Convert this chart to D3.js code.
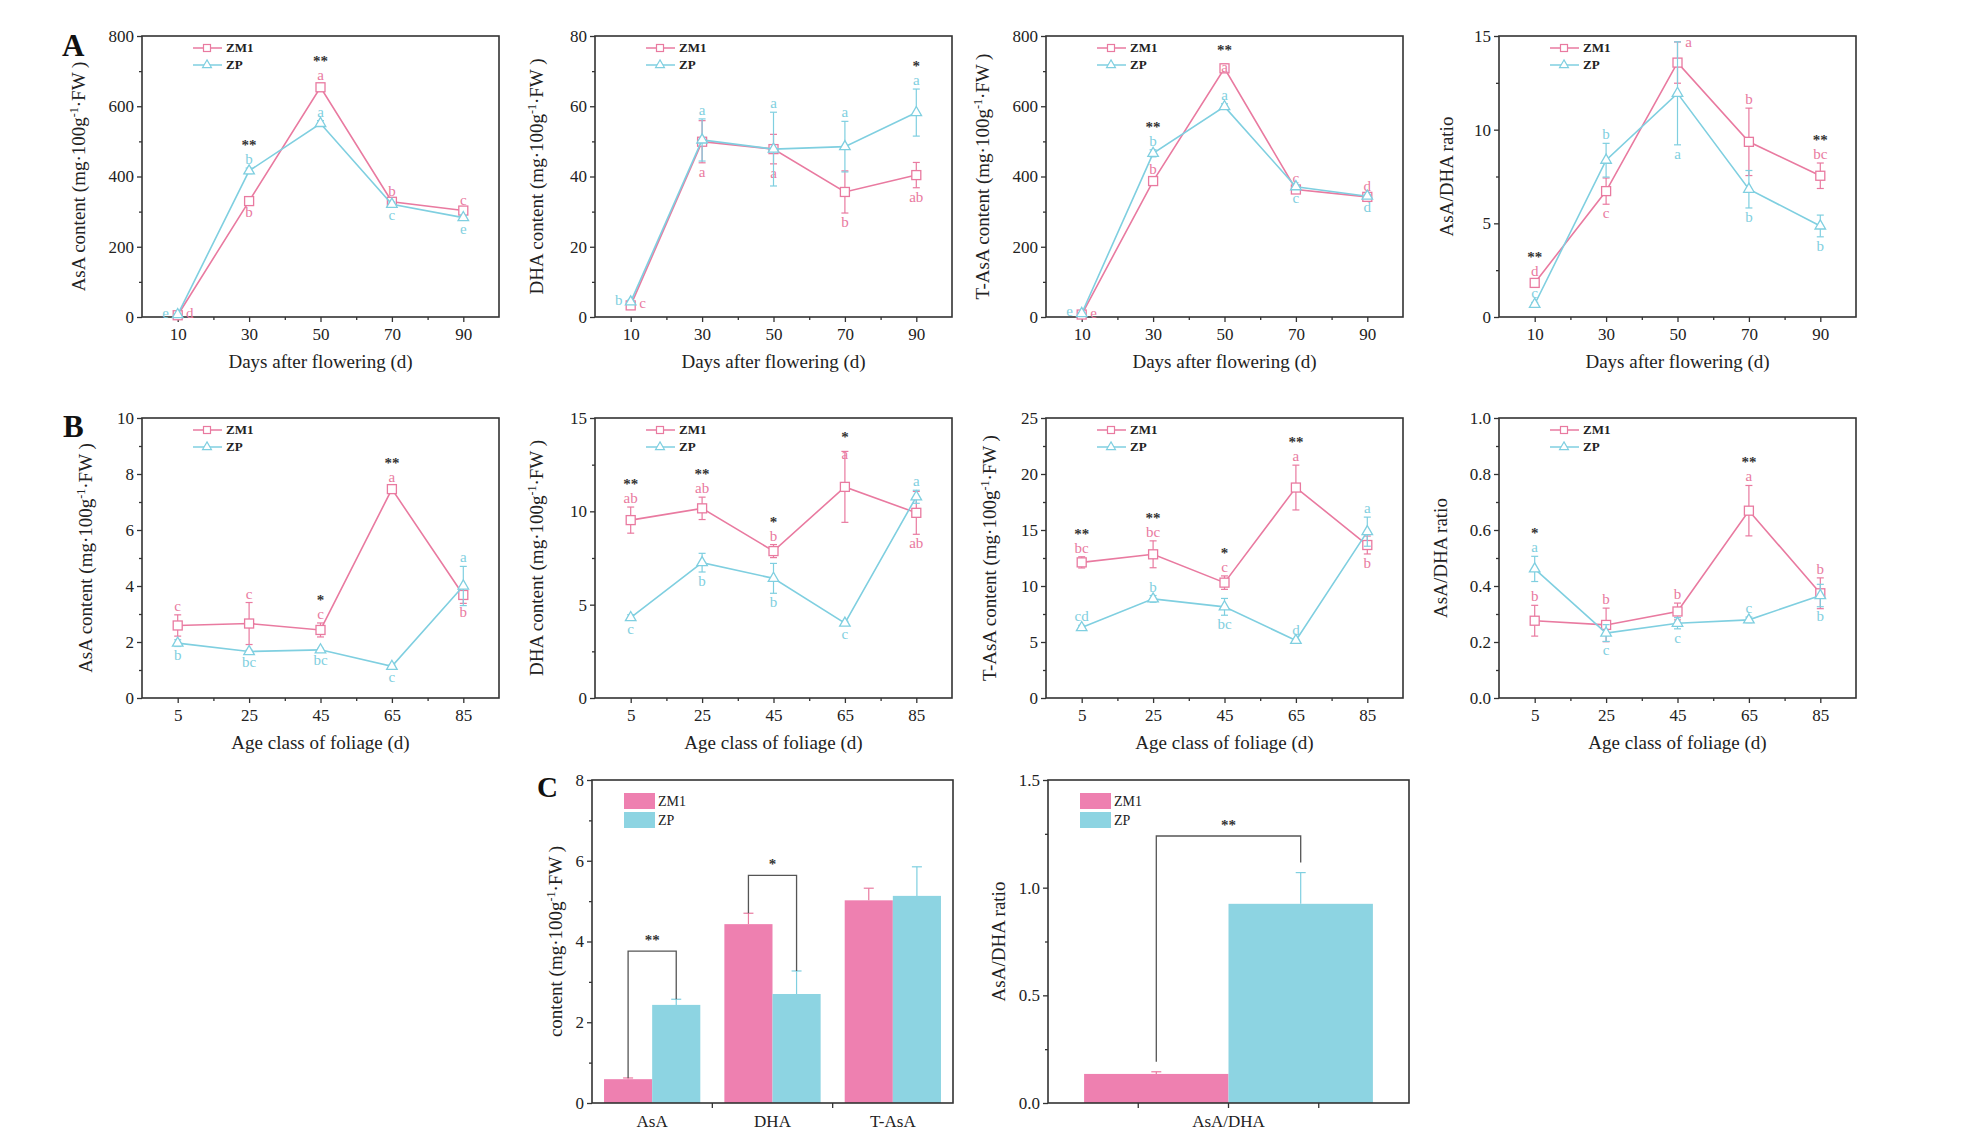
<!DOCTYPE html>
<html>
<head>
<meta charset="utf-8">
<script src="https://cdn.jsdelivr.net/npm/d3@7"></script>
<style>
  body { margin: 0; background: #fff; }
</style>
</head>
<body>
<svg id="fig" width="1961" height="1137"></svg>
<script>
const fontFamily = "'Liberation Serif', 'Times New Roman', serif";
const pink = "#e97aa0", cyan = "#7fcfe0";
const barPink = "#ee80b0", barCyan = "#8dd4e2";
const axisColor = "#333";

// ---- Row A: days after flowering ----
const daysAfterFlowering = [10, 30, 50, 70, 90];

const asaA_ZM1 = [5, 330, 654, 328, 303];
const asaA_ZM1_err = [2, 6, 10, 6, 5];
const asaA_ZP = [7, 416, 551, 321, 283];
const asaA_ZP_err = [2, 8, 8, 6, 6];
const asaA_ZM1_lett = ["d", "b", "a", "b", "c"], asaA_ZM1_side = ["r", "d", "u", "u", "u"];
const asaA_ZP_lett = ["e", "b", "a", "c", "e"], asaA_ZP_side = ["l", "u", "u", "d", "d"];
const asaA_stars = ["", "**", "**", "", ""];

const dhaA_ZM1 = [3.3, 49.9, 47.8, 35.6, 40.4];
const dhaA_ZM1_err = [0.5, 6.0, 4.2, 6.0, 3.6];
const dhaA_ZP = [4.3, 50.4, 47.8, 48.5, 58.2];
const dhaA_ZP_err = [0.5, 6.0, 10.5, 7.2, 6.7];
const dhaA_ZM1_lett = ["c", "a", "a", "b", "ab"], dhaA_ZM1_side = ["r", "d", "d", "d", "d"];
const dhaA_ZP_lett = ["b", "a", "a", "a", "a"], dhaA_ZP_side = ["l", "u", "u", "u", "u"];
const dhaA_stars = ["", "", "", "", "*"];

const tasaA_ZM1 = [7, 387, 708, 363, 342];
const tasaA_ZM1_err = [2, 10, 12, 6, 5];
const tasaA_ZP = [10, 466, 599, 371, 344];
const tasaA_ZP_err = [2, 10, 8, 6, 5];
const tasaA_ZM1_lett = ["e", "b", "a", "c", "d"], tasaA_ZM1_side = ["r", "u", "in", "u", "u"];
const tasaA_ZP_lett = ["e", "b", "a", "c", "d"], tasaA_ZP_side = ["l", "u", "u", "d", "d"];
const tasaA_stars = ["", "**", "**", "", ""];

const ratioA_ZM1 = [1.82, 6.72, 13.58, 9.35, 7.54];
const ratioA_ZM1_err = [0.15, 0.7, 1.1, 1.8, 0.68];
const ratioA_ZP = [0.68, 8.37, 11.94, 6.82, 4.86];
const ratioA_ZP_err = [0.1, 0.9, 2.75, 1.0, 0.58];
const ratioA_ZM1_lett = ["d", "c", "a", "b", "bc"], ratioA_ZM1_side = ["u", "d", "ur", "u", "u"];
const ratioA_ZP_lett = ["c", "b", "a", "b", "b"], ratioA_ZP_side = ["u", "u", "d", "d", "d"];
const ratioA_stars = ["**", "", "", "", "**"];

// ---- Row B: age class of foliage ----
const ageClass = [5, 25, 45, 65, 85];

const asaB_ZM1 = [2.59, 2.66, 2.43, 7.46, 3.68];
const asaB_ZM1_err = [0.38, 0.75, 0.25, 0.1, 0.3];
const asaB_ZP = [1.96, 1.66, 1.72, 1.13, 4.0];
const asaB_ZP_err = [0.12, 0.05, 0.05, 0.05, 0.7];
const asaB_ZM1_lett = ["c", "c", "c", "a", "b"], asaB_ZM1_side = ["u", "u", "u", "u", "d"];
const asaB_ZP_lett = ["b", "bc", "bc", "c", "a"], asaB_ZP_side = ["d", "d", "d", "d", "u"];
const asaB_stars = ["", "", "*", "**", ""];

const dhaB_ZM1 = [9.53, 10.16, 7.87, 11.31, 9.92];
const dhaB_ZM1_err = [0.7, 0.6, 0.35, 1.9, 1.15];
const dhaB_ZP = [4.31, 7.25, 6.41, 4.01, 10.78];
const dhaB_ZP_err = [0.15, 0.5, 0.8, 0.1, 0.35];
const dhaB_ZM1_lett = ["ab", "ab", "b", "a", "ab"], dhaB_ZM1_side = ["u", "u", "u", "in", "d"];
const dhaB_ZP_lett = ["c", "b", "b", "c", "a"], dhaB_ZP_side = ["d", "d", "d", "d", "u"];
const dhaB_stars = ["**", "**", "*", "*", ""];

const tasaB_ZM1 = [12.11, 12.83, 10.30, 18.79, 13.66];
const tasaB_ZM1_err = [0.5, 1.2, 0.6, 2.0, 0.8];
const tasaB_ZP = [6.29, 8.85, 8.14, 5.14, 14.85];
const tasaB_ZP_err = [0.2, 0.3, 0.75, 0.1, 1.3];
const tasaB_ZM1_lett = ["bc", "bc", "c", "a", "b"], tasaB_ZM1_side = ["u", "u", "u", "u", "d"];
const tasaB_ZP_lett = ["cd", "b", "bc", "d", "a"], tasaB_ZP_side = ["u", "u", "d", "u", "u"];
const tasaB_stars = ["**", "**", "*", "**", ""];

const ratioB_ZM1 = [0.276, 0.261, 0.309, 0.669, 0.374];
const ratioB_ZM1_err = [0.055, 0.06, 0.03, 0.09, 0.055];
const ratioB_ZP = [0.461, 0.232, 0.267, 0.279, 0.366];
const ratioB_ZP_err = [0.045, 0.03, 0.02, 0.01, 0.04];
const ratioB_ZM1_lett = ["b", "b", "b", "a", "b"], ratioB_ZM1_side = ["u", "u", "u", "u", "u"];
const ratioB_ZP_lett = ["a", "c", "c", "c", "b"], ratioB_ZP_side = ["u", "d", "d", "u", "d"];
const ratioB_stars = ["*", "", "", "**", ""];

// ---- Row C: bars ----
const contentCats = ["AsA", "DHA", "T-AsA"];
const contentZM1 = [0.59, 4.43, 5.02];
const contentZM1_err = [0.03, 0.27, 0.30];
const contentZP = [2.43, 2.70, 5.13];
const contentZP_err = [0.14, 0.57, 0.72];
const contentBrackets = [{cat: "AsA", level: 3.76, mark: "**"}, {cat: "DHA", level: 5.64, mark: "*"}];

const ratioCats = ["AsA/DHA"];
const ratioZM1 = [0.135];
const ratioZM1_err = [0.01];
const ratioZP = [0.925];
const ratioZP_err = [0.145];
const ratioBrackets = [{cat: "AsA/DHA", level: 1.24, mark: "**"}];

const svg = d3.select("#fig");
svg.append("rect").attr("width", 1961).attr("height", 1137).attr("fill", "#fff");

function styleAxis(sel) {
  sel.select(".domain").remove();
  sel.selectAll("line").attr("stroke", axisColor).attr("stroke-width", 1.3);
  sel.selectAll("text").attr("font-family", fontFamily).attr("font-size", "17px").attr("fill", "#222");
}

function yTitle(g, text, x, cy) {
  const t = g.append("text")
    .attr("transform", `translate(${x},${cy}) rotate(-90)`)
    .attr("text-anchor", "middle")
    .attr("font-family", fontFamily)
    .attr("font-size", "19px")
    .attr("fill", "#222");
  if (text.indexOf("content") >= 0) {
    t.append("tspan").text(text + " (mg·100g");
    t.append("tspan").attr("dy", -7).attr("font-size", "12px").text("-1");
    t.append("tspan").attr("dy", 7).text("·FW )");
  } else {
    t.text(text);
  }
}

function yAxes(g, y, ticks, minor, fmt) {
  g.append("g").call(d3.axisLeft(y).tickValues(ticks).tickSize(5).tickSizeOuter(0).tickFormat(fmt)).call(styleAxis);
  g.append("g").call(d3.axisLeft(y).tickValues(minor).tickSize(3).tickSizeOuter(0).tickFormat("")).call(styleAxis);
}

// letter baseline relative to the error-bar top, per placement code
const letterRise = {u: 15, in: 6};

function drawLinePanel(p) {
  const g = svg.append("g").attr("transform", `translate(${p.left},${p.top})`);
  const w = 357, h = p.h;
  const x = d3.scaleLinear().domain(p.xDomain).range([0, w]);
  const y = d3.scaleLinear().domain([0, p.yTicks[p.yTicks.length - 1]]).range([h, 0]);

  yAxes(g, y, p.yTicks, p.yMinor, p.yFmt);
  const gx = g.append("g").attr("transform", `translate(0,${h})`);
  gx.append("g").call(d3.axisBottom(x).tickValues(p.xs).tickSize(5).tickSizeOuter(0).tickPadding(6)).call(styleAxis);
  gx.append("g").call(d3.axisBottom(x).tickValues(p.xs.slice(0, -1).map(v => v + 10)).tickSize(3).tickSizeOuter(0).tickFormat("")).call(styleAxis);

  g.append("rect").attr("width", w).attr("height", h)
    .attr("fill", "none").attr("stroke", axisColor).attr("stroke-width", 1.6);

  const line = d3.line().x((d, i) => x(p.xs[i])).y(d => y(d));
  const tri = d3.symbol(d3.symbolTriangle, 48);

  p.series.forEach(s => {
    g.append("path").datum(s.vals).attr("d", line)
      .attr("fill", "none").attr("stroke", s.color).attr("stroke-width", 1.6);
    s.vals.forEach((v, i) => {
      const cx = x(p.xs[i]);
      const e = s.errs[i];
      g.append("line").attr("x1", cx).attr("x2", cx).attr("y1", y(v - e)).attr("y2", y(v + e))
        .attr("stroke", s.color).attr("stroke-width", 1.2);
      [v - e, v + e].forEach(c => g.append("line").attr("x1", cx - 3.5).attr("x2", cx + 3.5)
        .attr("y1", y(c)).attr("y2", y(c)).attr("stroke", s.color).attr("stroke-width", 1.2));
    });
    s.vals.forEach((v, i) => {
      const cx = x(p.xs[i]);
      if (s.shape === "square") {
        g.append("rect").attr("x", cx - 4.5).attr("y", y(v) - 4.5).attr("width", 9).attr("height", 9)
          .attr("fill", "#fff").attr("stroke", s.color).attr("stroke-width", 1.3);
      } else {
        g.append("path").attr("d", tri).attr("transform", `translate(${cx},${y(v)})`)
          .attr("fill", "#fff").attr("stroke", s.color).attr("stroke-width", 1.3);
      }
    });
    s.letters.forEach((L, i) => {
      const cx = x(p.xs[i]), v = s.vals[i], e = s.errs[i], side = s.sides[i];
      let tx = cx, ty;
      if (side === "u") ty = y(v + e) - 4;
      else if (side === "in") ty = y(v + e) + 8;
      else if (side === "ur") { tx = cx + 11; ty = y(v + e) + 5; }
      else if (side === "d") ty = y(v - e) + 14;
      else { tx = cx + (side === "l" ? -12 : 12); ty = y(v) + 3; }
      g.append("text").attr("x", tx).attr("y", ty).attr("text-anchor", "middle")
        .attr("font-family", fontFamily).attr("font-size", "15px").attr("fill", s.color).text(L);
    });
  });

  // significance stars sit above the highest error bar / letter, but stay inside the frame
  p.stars.forEach((st, i) => {
    if (!st) return;
    const tops = p.series.map(s => y(s.vals[i] + s.errs[i]) - (letterRise[s.sides[i]] || 0));
    g.append("text").attr("x", x(p.xs[i])).attr("y", Math.max(d3.min(tops) - 3, 18)).attr("text-anchor", "middle")
      .attr("font-family", fontFamily).attr("font-size", "15px").attr("font-weight", "bold")
      .attr("fill", "#333").text(st);
  });

  // legend
  p.series.forEach((s, k) => {
    const ly = 12 + k * 17;
    g.append("line").attr("x1", 51).attr("x2", 80).attr("y1", ly).attr("y2", ly)
      .attr("stroke", s.color).attr("stroke-width", 1.5);
    if (s.shape === "square") {
      g.append("rect").attr("x", 61.5).attr("y", ly - 3.5).attr("width", 7).attr("height", 7)
        .attr("fill", "#fff").attr("stroke", s.color).attr("stroke-width", 1.2);
    } else {
      g.append("path").attr("d", d3.symbol(d3.symbolTriangle, 34)).attr("transform", `translate(65,${ly})`)
        .attr("fill", "#fff").attr("stroke", s.color).attr("stroke-width", 1.2);
    }
    g.append("text").attr("x", 84).attr("y", ly + 4)
      .attr("font-family", fontFamily).attr("font-size", "13px").attr("font-weight", "bold")
      .attr("fill", "#222").text(s.name);
  });

  yTitle(g, p.yTitle, p.yTitleX, h / 2);
  g.append("text").attr("x", w / 2).attr("y", h + 51).attr("text-anchor", "middle")
    .attr("font-family", fontFamily).attr("font-size", "19px").attr("fill", "#222").text(p.xTitle);
}

function drawBarPanel(p) {
  const g = svg.append("g").attr("transform", `translate(${p.left},${p.top})`);
  const w = 361, h = 323;
  const x = d3.scaleBand().domain(p.cats).range([0, w]);
  const inner = d3.scaleBand().domain(["ZM1", "ZP"]).range([0, x.bandwidth() * 0.8]);
  const off = x.bandwidth() * 0.1;
  const y = d3.scaleLinear().domain([0, p.yTicks[p.yTicks.length - 1]]).range([h, 0]);

  yAxes(g, y, p.yTicks, p.yMinor, p.yFmt);
  const gx = g.append("g").attr("transform", `translate(0,${h})`);
  gx.append("g").call(d3.axisBottom(x).tickSize(0).tickPadding(12)).call(styleAxis);
  p.xTickFrac.forEach(f => gx.append("line").attr("x1", f * w).attr("x2", f * w).attr("y1", 0).attr("y2", 5)
    .attr("stroke", axisColor).attr("stroke-width", 1.3));

  const groups = [
    {name: "ZM1", vals: p.zm1, errs: p.zm1Err, fill: barPink, err: pink},
    {name: "ZP", vals: p.zp, errs: p.zpErr, fill: barCyan, err: cyan}
  ];
  groups.forEach(gr => {
    p.cats.forEach((c, i) => {
      const bx = x(c) + off + inner(gr.name), bw = inner.bandwidth();
      g.append("rect").attr("x", bx).attr("y", y(gr.vals[i])).attr("width", bw)
        .attr("height", h - y(gr.vals[i])).attr("fill", gr.fill);
      const cx = bx + bw / 2, top = y(gr.vals[i] + gr.errs[i]);
      g.append("line").attr("x1", cx).attr("x2", cx).attr("y1", y(gr.vals[i])).attr("y2", top)
        .attr("stroke", gr.err).attr("stroke-width", 1.2);
      g.append("line").attr("x1", cx - 5).attr("x2", cx + 5).attr("y1", top).attr("y2", top)
        .attr("stroke", gr.err).attr("stroke-width", 1.2);
    });
  });

  p.brackets.forEach(b => {
    const i = p.cats.indexOf(b.cat);
    const x1 = x(b.cat) + off + inner("ZM1") + inner.bandwidth() / 2;
    const x2 = x(b.cat) + off + inner("ZP") + inner.bandwidth() / 2;
    const yb = y(b.level);
    const y1 = y(p.zm1[i] + p.zm1Err[i]) - p.legGap, y2 = y(p.zp[i] + p.zpErr[i]) - p.legGap;
    g.append("path").attr("d", `M${x1},${y1}V${yb}H${x2}V${y2}`)
      .attr("fill", "none").attr("stroke", "#555").attr("stroke-width", 1.3);
    g.append("text").attr("x", (x1 + x2) / 2).attr("y", yb - 6).attr("text-anchor", "middle")
      .attr("font-family", fontFamily).attr("font-size", "15px").attr("font-weight", "bold")
      .attr("fill", "#333").text(b.mark);
  });

  g.append("rect").attr("width", w).attr("height", h)
    .attr("fill", "none").attr("stroke", axisColor).attr("stroke-width", 1.6);

  groups.forEach((gr, k) => {
    g.append("rect").attr("x", p.legX).attr("y", 13 + k * 19).attr("width", 31).attr("height", 16).attr("fill", gr.fill);
    g.append("text").attr("x", p.legX + 34).attr("y", 26 + k * 19)
      .attr("font-family", fontFamily).attr("font-size", "14px")
      .attr("fill", "#222").text(gr.name);
  });

  yTitle(g, p.yTitle, p.yTitleX, h / 2);
}

const fmt0 = d3.format("d"), fmt1 = d3.format(".1f");
const ser = (v, e, l, s) => [
  {name: "ZM1", color: pink, shape: "square", vals: v[0], errs: e[0], letters: l[0], sides: s[0]},
  {name: "ZP", color: cyan, shape: "triangle", vals: v[1], errs: e[1], letters: l[1], sides: s[1]}
];

const colLeft = [142, 595, 1046, 1499];
const rowA = {top: 36, h: 281, xs: daysAfterFlowering, xDomain: [0, 100], xTitle: "Days after flowering (d)"};
const rowB = {top: 418, h: 280, xs: ageClass, xDomain: [-5, 95], xTitle: "Age class of foliage (d)"};

const linePanels = [
  Object.assign({}, rowA, {left: colLeft[0], yTicks: [0, 200, 400, 600, 800], yMinor: [100, 300, 500, 700], yFmt: fmt0,
    yTitle: "AsA content", yTitleX: -57, stars: asaA_stars,
    series: ser([asaA_ZM1, asaA_ZP], [asaA_ZM1_err, asaA_ZP_err], [asaA_ZM1_lett, asaA_ZP_lett], [asaA_ZM1_side, asaA_ZP_side])}),
  Object.assign({}, rowA, {left: colLeft[1], yTicks: [0, 20, 40, 60, 80], yMinor: [10, 30, 50, 70], yFmt: fmt0,
    yTitle: "DHA content", yTitleX: -52, stars: dhaA_stars,
    series: ser([dhaA_ZM1, dhaA_ZP], [dhaA_ZM1_err, dhaA_ZP_err], [dhaA_ZM1_lett, dhaA_ZP_lett], [dhaA_ZM1_side, dhaA_ZP_side])}),
  Object.assign({}, rowA, {left: colLeft[2], yTicks: [0, 200, 400, 600, 800], yMinor: [100, 300, 500, 700], yFmt: fmt0,
    yTitle: "T-AsA content", yTitleX: -57, stars: tasaA_stars,
    series: ser([tasaA_ZM1, tasaA_ZP], [tasaA_ZM1_err, tasaA_ZP_err], [tasaA_ZM1_lett, tasaA_ZP_lett], [tasaA_ZM1_side, tasaA_ZP_side])}),
  Object.assign({}, rowA, {left: colLeft[3], yTicks: [0, 5, 10, 15], yMinor: [2.5, 7.5, 12.5], yFmt: fmt0,
    yTitle: "AsA/DHA ratio", yTitleX: -46, stars: ratioA_stars,
    series: ser([ratioA_ZM1, ratioA_ZP], [ratioA_ZM1_err, ratioA_ZP_err], [ratioA_ZM1_lett, ratioA_ZP_lett], [ratioA_ZM1_side, ratioA_ZP_side])}),
  Object.assign({}, rowB, {left: colLeft[0], yTicks: [0, 2, 4, 6, 8, 10], yMinor: [1, 3, 5, 7, 9], yFmt: fmt0,
    yTitle: "AsA content", yTitleX: -50, stars: asaB_stars,
    series: ser([asaB_ZM1, asaB_ZP], [asaB_ZM1_err, asaB_ZP_err], [asaB_ZM1_lett, asaB_ZP_lett], [asaB_ZM1_side, asaB_ZP_side])}),
  Object.assign({}, rowB, {left: colLeft[1], yTicks: [0, 5, 10, 15], yMinor: [2.5, 7.5, 12.5], yFmt: fmt0,
    yTitle: "DHA content", yTitleX: -52, stars: dhaB_stars,
    series: ser([dhaB_ZM1, dhaB_ZP], [dhaB_ZM1_err, dhaB_ZP_err], [dhaB_ZM1_lett, dhaB_ZP_lett], [dhaB_ZM1_side, dhaB_ZP_side])}),
  Object.assign({}, rowB, {left: colLeft[2], yTicks: [0, 5, 10, 15, 20, 25], yMinor: [2.5, 7.5, 12.5, 17.5, 22.5], yFmt: fmt0,
    yTitle: "T-AsA content", yTitleX: -50, stars: tasaB_stars,
    series: ser([tasaB_ZM1, tasaB_ZP], [tasaB_ZM1_err, tasaB_ZP_err], [tasaB_ZM1_lett, tasaB_ZP_lett], [tasaB_ZM1_side, tasaB_ZP_side])}),
  Object.assign({}, rowB, {left: colLeft[3], yTicks: [0, 0.2, 0.4, 0.6, 0.8, 1.0], yMinor: [0.1, 0.3, 0.5, 0.7, 0.9], yFmt: fmt1,
    yTitle: "AsA/DHA ratio", yTitleX: -52, stars: ratioB_stars,
    series: ser([ratioB_ZM1, ratioB_ZP], [ratioB_ZM1_err, ratioB_ZP_err], [ratioB_ZM1_lett, ratioB_ZP_lett], [ratioB_ZM1_side, ratioB_ZP_side])})
];
linePanels.forEach(drawLinePanel);

drawBarPanel({left: 592, top: 780, cats: contentCats, zm1: contentZM1, zm1Err: contentZM1_err, zp: contentZP, zpErr: contentZP_err,
  yTicks: [0, 2, 4, 6, 8], yMinor: [1, 3, 5, 7], yFmt: fmt0, yTitle: "content", yTitleX: -30,
  brackets: contentBrackets, legGap: 0, legX: 32, xTickFrac: [1 / 3, 2 / 3]});
drawBarPanel({left: 1048, top: 780, cats: ratioCats, zm1: ratioZM1, zm1Err: ratioZM1_err, zp: ratioZP, zpErr: ratioZP_err,
  yTicks: [0, 0.5, 1.0, 1.5], yMinor: [0.25, 0.75, 1.25], yFmt: fmt1, yTitle: "AsA/DHA ratio", yTitleX: -43,
  brackets: ratioBrackets, legGap: 10, legX: 32, xTickFrac: [0.25, 0.5, 0.75]});

// panel letters
[["A", 62, 56], ["B", 63, 437], ["C", 537, 797]].forEach(([t, x, y]) => {
  svg.append("text").attr("x", x).attr("y", y)
    .attr("font-family", fontFamily).attr("font-size", t === "C" ? "29px" : "31px").attr("font-weight", "bold")
    .attr("fill", "#111").text(t);
});
</script>
</body>
</html>
